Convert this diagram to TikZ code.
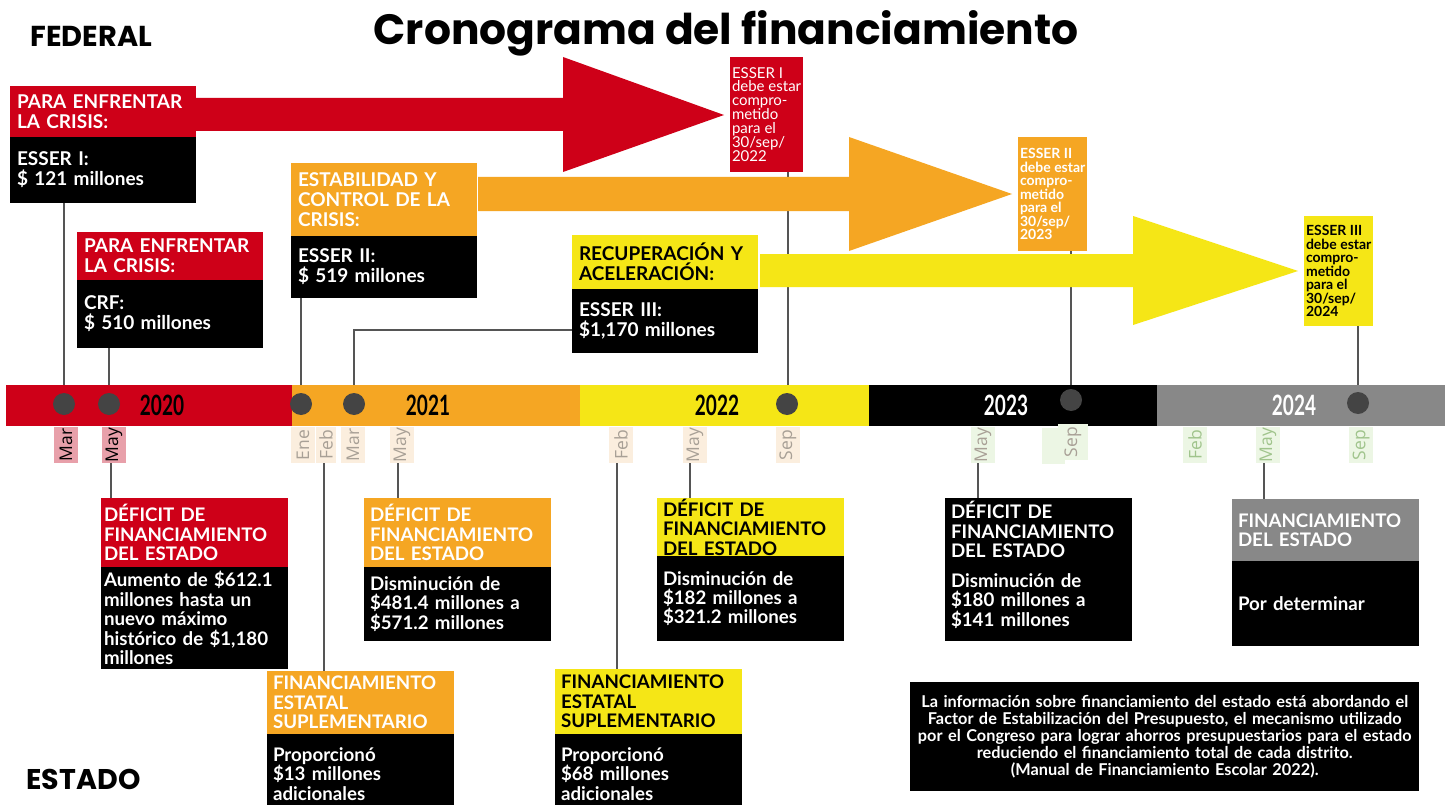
\documentclass[tikz,border=0pt]{standalone}
\usepackage{fontspec}
\setmainfont{Lato}
\newfontfamily\titlefont{Poppins}
\newfontfamily\monthfont{Open Sans}
\usetikzlibrary{positioning}

\definecolor{fedred}{RGB}{206,0,24}
\definecolor{fedorange}{RGB}{245,166,35}
\definecolor{fedyellow}{RGB}{245,230,22}
\definecolor{bargray}{RGB}{136,136,136}
\definecolor{dotgray}{RGB}{68,68,68}
\definecolor{linkgray}{RGB}{85,85,85}
\definecolor{pinkbg}{RGB}{232,160,170}
\definecolor{creambg}{RGB}{251,238,222}
\definecolor{creamtext}{RGB}{168,160,150}
\definecolor{greenbg}{RGB}{236,246,228}
\definecolor{greentext}{RGB}{160,196,140}

\pgfdeclarelayer{background}
\pgfsetlayers{background,main}

\tikzset{
  panel/.style={anchor=north west, rectangle, outer sep=0pt, inner xsep=7pt, inner ysep=0pt,
    text width=172pt, align=left, text=white, font=\bfseries\fontsize{19}{20}\selectfont},
  defpanel/.style={panel, inner xsep=6pt, text width=175pt, font=\bfseries\fontsize{18.7}{19.4}\selectfont},
  memo/.style={anchor=north west, rectangle, outer sep=0pt, inner xsep=2pt, inner ysep=0pt,
    minimum width=69pt, align=left, font=\fontsize{15}{13.5}\selectfont},
  month/.style={rotate=90, rectangle, minimum width=36pt, minimum height=24pt, inner sep=0pt,
    font=\monthfont\fontsize{17.5}{17.5}\selectfont},
  segment/.style={anchor=north west, rectangle, outer sep=0pt, inner sep=0pt, minimum height=41pt},
  year/.style={font=\bfseries\fontsize{28}{28}\selectfont},
  dot/.style={circle, fill=dotgray, minimum size=22pt, inner sep=0pt},
  link/.style={draw=linkgray, line width=2pt}
}

\begin{document}
\begin{tikzpicture}[x=1pt, y=-1pt]
\useasboundingbox (0,0) rectangle (1450,805);

% headings
\node[anchor=base, font=\titlefont\bfseries\fontsize{42.4}{43}\selectfont] (title) at (726,45) {Cronograma del financiamiento};
\node[anchor=base west, font=\titlefont\bfseries\fontsize{28.8}{29}\selectfont] (federal) at (27,47) {FEDERAL};
\node[anchor=base west, font=\titlefont\bfseries\fontsize{28.5}{29}\selectfont] (estado) at (23,789) {ESTADO};

% big arrows
\fill[fedred] (196,98) -- (563,98) -- (563,57) -- (724,115) -- (563,172) -- (563,131) -- (196,131) -- cycle;
\fill[fedorange] (478,177) -- (849,177) -- (849,137) -- (1012,194) -- (849,251) -- (849,211) -- (478,211) -- cycle;
\fill[fedyellow] (760,254) -- (1133,254) -- (1133,216) -- (1298,271) -- (1133,325) -- (1133,287) -- (760,287) -- cycle;

% federal funds
\node[panel, fill=fedred, minimum height=51pt] (crisisA) at (10,86) {PARA ENFRENTAR\\LA CRISIS:};
\node[panel, fill=black, minimum height=66pt] (esserA) at (crisisA.south west) {ESSER I:\\\$ 121 millones};
\node[panel, fill=fedred, minimum height=48pt] (crisisB) at (77,232) {PARA ENFRENTAR\\LA CRISIS:};
\node[panel, fill=black, minimum height=68pt] (crfBox) at (crisisB.south west) {CRF:\\\$ 510 millones};
\node[panel, fill=fedorange, minimum height=73pt] (stabil) at (291,163) {ESTABILIDAD Y\\CONTROL DE LA\\CRISIS:};
\node[panel, fill=black, minimum height=62pt] (esserB) at (stabil.south west) {ESSER II:\\\$ 519 millones};
\node[panel, fill=fedyellow, text=black, minimum height=54pt] (recov) at (572,235) {RECUPERACIÓN Y\\ACELERACIÓN:};
\node[panel, fill=black, minimum height=64pt] (esserC) at (recov.south west) {ESSER III:\\\$1,170 millones};

% deadlines
\node[memo, fill=fedred, text=white, minimum height=115pt] (noteA) at (730,57) {ESSER I\\debe estar\\compro-\\metido\\para el\\30/sep/\\2022};
\node[memo, fill=fedorange, text=white, font=\bfseries\fontsize{14}{13.5}\selectfont, minimum height=114pt] (noteB) at (1018,137) {ESSER II\\debe estar\\compro-\\metido\\para el\\30/sep/\\2023};
\node[memo, fill=fedyellow, text=black, font=\bfseries\fontsize{14}{13.5}\selectfont, minimum height=110pt] (noteC) at (1304,216) {ESSER III\\debe estar\\compro-\\metido\\para el\\30/sep/\\2024};

% year bar
\node[segment, fill=fedred, minimum width=286pt] (bar20) at (6,385) {};
\node[segment, fill=fedorange, minimum width=288pt] (bar21) at (292,385) {};
\node[segment, fill=fedyellow, minimum width=289pt] (bar22) at (580,385) {};
\node[segment, fill=black, minimum width=288pt] (bar23) at (869,385) {};
\node[segment, fill=bargray, minimum width=288pt] (bar24) at (1157,385) {};
\node[year] (y20) at (162,405) {\scalebox{0.68}[1]{2020}};
\node[year] (y21) at (428,405) {\scalebox{0.68}[1]{2021}};
\node[year] (y22) at (717,405) {\scalebox{0.68}[1]{2022}};
\node[year, text=white] (y23) at (1006,405) {\scalebox{0.68}[1]{2023}};
\node[year, text=white] (y24) at (1294,405) {\scalebox{0.68}[1]{2024}};

\node[dot] (dotA) at (64,404) {};
\node[dot] (dotB) at (109,404) {};
\node[dot] (dotC) at (301,404) {};
\node[dot] (dotD) at (354,404) {};
\node[dot] (dotE) at (787,404) {};
\node[dot] (dotF) at (1071,400) {};
\node[dot] (dotG) at (1358,403) {};

% months
\node[month, fill=pinkbg] (mMar20) at (66,445) {Mar};
\node[month, fill=pinkbg] (mMay20) at (114,445) {May};
\node[month, fill=creambg, text=creamtext] (mEne21) at (303,445) {Ene};
\node[month, fill=creambg, text=creamtext, minimum height=20pt] (mFeb21) at (326,445) {Feb};
\node[month, fill=creambg, text=creamtext] (mMar21) at (353,445) {Mar};
\node[month, fill=creambg, text=creamtext] (mMay21) at (402,445) {May};
\node[month, fill=creambg, text=creamtext] (mFeb22) at (621,445) {Feb};
\node[month, fill=creambg, text=creamtext] (mMay22) at (695,445) {May};
\node[month, fill=creambg, text=creamtext] (mSep22) at (788,445) {Sep};
\node[month, fill=greenbg, text=creamtext] (mMay23) at (983,445) {May};
\node[month, fill=greenbg, minimum height=23pt] (mBlank23) at (1053,446) {};
\node[month, fill=greenbg, text=creamtext, minimum height=30pt] (mSep23) at (1073,442) {Sep};
\node[month, fill=greenbg, text=greentext] (mFeb24) at (1195,445) {Feb};
\node[month, fill=greenbg, text=greentext] (mMay24) at (1268,445) {May};
\node[month, fill=greenbg, text=greentext] (mSep24) at (1361,445) {Sep};

% state funding
\node[defpanel, inner xsep=3pt, text width=181pt, fill=fedred, minimum height=69pt] (defA) at (101,498) {DÉFICIT DE\\FINANCIAMIENTO\\DEL ESTADO};
\node[defpanel, inner xsep=3pt, text width=181pt, fill=black, minimum height=102pt] (defAbody) at (defA.south west) {Aumento de \$612.1\\millones hasta un\\nuevo máximo\\histórico de \$1,180\\millones};
\node[defpanel, fill=fedorange, minimum height=69pt] (defB) at (364,498) {DÉFICIT DE\\FINANCIAMIENTO\\DEL ESTADO};
\node[defpanel, fill=black, minimum height=74pt] (defBbody) at (defB.south west) {Disminución de\\\$481.4 millones a\\\$571.2 millones};
\node[defpanel, fill=fedyellow, text=black, minimum height=58pt] (defC) at (657,498) {DÉFICIT DE\\FINANCIAMIENTO\\DEL ESTADO};
\node[defpanel, fill=black, minimum height=85pt] (defCbody) at (defC.south west) {Disminución de\\\$182 millones a\\\$321.2 millones};
\node[defpanel, fill=black, minimum height=63pt] (defD) at (945,498) {DÉFICIT DE\\FINANCIAMIENTO\\DEL ESTADO};
\node[defpanel, fill=black, minimum height=80pt] (defDbody) at (defD.south west) {Disminución de\\\$180 millones a\\\$141 millones};
\node[defpanel, fill=bargray, minimum height=62pt] (fund24) at (1232,499) {FINANCIAMIENTO\\DEL ESTADO};
\node[defpanel, fill=black, minimum height=85pt] (fund24body) at (fund24.south west) {Por determinar};

\node[defpanel, fill=fedorange, minimum height=63pt] (supA) at (267,671) {FINANCIAMIENTO\\ESTATAL\\SUPLEMENTARIO};
\node[defpanel, fill=black, minimum height=80pt] (supAbody) at (supA.south west) {Proporcionó\\\$13 millones\\adicionales};
\node[defpanel, fill=fedyellow, text=black, minimum height=65pt] (supB) at (555,669) {FINANCIAMIENTO\\ESTATAL\\SUPLEMENTARIO};
\node[defpanel, fill=black, minimum height=80pt] (supBbody) at (supB.south west) {Proporcionó\\\$68 millones\\adicionales};

\node[anchor=north west, fill=black, text=white, text width=495pt, inner xsep=7pt, inner ysep=0pt, align=center,
  minimum height=109pt, font=\bfseries\fontsize{16.3}{17}\selectfont] (factNote) at (910,682)
  {La información sobre financiamiento del estado está abordando el\\Factor de Estabilización del Presupuesto, el mecanismo utilizado\\por el Congreso para lograr ahorros presupuestarios para el estado\\reduciendo el financiamiento total de cada distrito.\\(Manual de Financiamiento Escolar 2022).};

\begin{pgfonlayer}{background}
\fill[white] (0,0) rectangle (1450,805);
% ties to the bar
\draw[link] (dotA.center) -- (dotA.center |- esserA.south);
\draw[link] (dotB.center) -- (dotB.center |- crfBox.south);
\draw[link] (dotC.center) -- (dotC.center |- esserB.south);
\draw[link] (dotD.center) |- ([yshift=-9pt]esserC.west);
\draw[link] ([xshift=1pt]dotE.center) -- ([xshift=1pt]dotE.center |- noteA.south);
\draw[link] (dotF.center) -- (dotF.center |- noteB.south);
\draw[link] (dotG.center) -- (dotG.center |- noteC.south);
\draw[link] ([xshift=-3pt]mMay20.west) -- ([xshift=-3pt]mMay20.west |- defA.north);
\draw[link] ([xshift=-2pt]mFeb21.west) -- ([xshift=-2pt]mFeb21.west |- supA.north);
\draw[link] ([xshift=-4pt]mMay21.west) -- ([xshift=-4pt]mMay21.west |- defB.north);
\draw[link] ([xshift=-4pt]mFeb22.west) -- ([xshift=-4pt]mFeb22.west |- supB.north);
\draw[link] ([xshift=-5pt]mMay22.west) -- ([xshift=-5pt]mMay22.west |- defC.north);
\draw[link] ([xshift=-5pt]mMay23.west) -- ([xshift=-5pt]mMay23.west |- defD.north);
\draw[link] ([xshift=-4pt]mMay24.west) -- ([xshift=-4pt]mMay24.west |- fund24.north);
\end{pgfonlayer}
\end{tikzpicture}
\end{document}
